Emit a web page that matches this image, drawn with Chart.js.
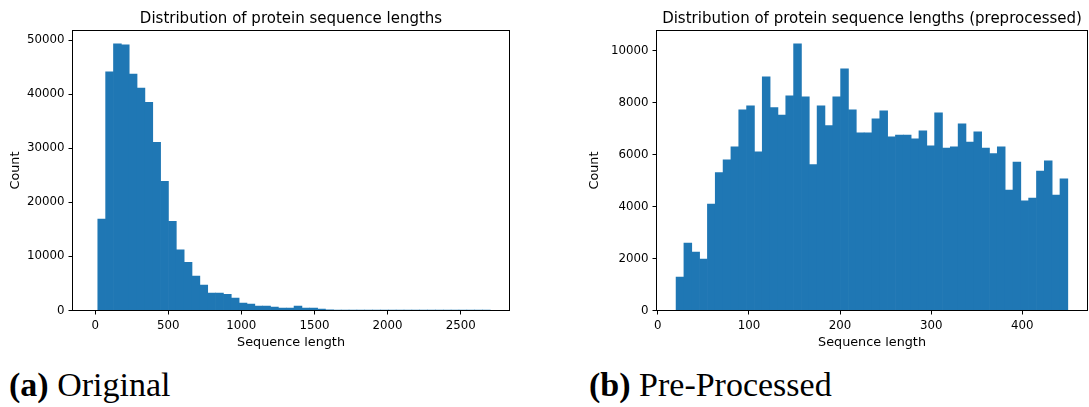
<!DOCTYPE html>
<html>
<head>
<meta charset="utf-8">
<script src="https://cdn.jsdelivr.net/npm/chart.js@4.4.1/dist/chart.umd.min.js"></script>
<style>
    body { margin: 0; background: #fff; width: 1089px; height: 407px; position: relative; overflow: hidden; }
    canvas { position: absolute; top: 0; }
    .caption { position: absolute; top: 366px; font-family: "Liberation Serif", serif; font-size: 34px; color: #000; white-space: nowrap; }
</style>
</head>
<body>
<canvas id="originalChart" width="545" height="355" style="left:0"></canvas>
<canvas id="preprocessedChart" width="544" height="355" style="left:545px"></canvas>
<div class="caption" style="left:9px"><b>(a)</b> Original</div>
<div class="caption" style="left:589px"><b>(b)</b> Pre-Processed</div>

<script>
/* --- Données --- */

// (a) longueurs d'origine : 50 classes
const originalBinStart = 18;
const originalBinWidth = 53.7;
const originalCounts = [
    16900, 44100, 49300, 49100, 43700, 41100, 38500, 31100, 23900, 16500,
    11200, 8900, 6350, 4700, 3200, 3200, 3000, 2300, 1350, 1170,
    800, 800, 620, 430, 430, 800, 430, 430, 250, 110,
    70, 50, 40, 30, 25, 20, 15, 12, 10, 8,
    6, 5, 4, 4, 3, 2, 2, 1, 1, 1
];
const originalXTicks = [0, 500, 1000, 1500, 2000, 2500];
const originalYTicks = [0, 10000, 20000, 30000, 40000, 50000];

// (b) longueurs après prétraitement : 50 classes
const preBinStart = 20;
const preBinWidth = 8.6;
const preCounts = [
    1285, 2600, 2250, 1980, 4100, 5310, 5800, 6300, 7730, 7880,
    6110, 9000, 7820, 7530, 8270, 10270, 8230, 5620, 7880, 7120,
    8230, 9310, 7730, 6840, 6840, 7380, 7690, 6690, 6760, 6760,
    6610, 6920, 6340, 7610, 6260, 6300, 7190, 6490, 6880, 6260,
    6040, 6300, 4640, 5720, 4220, 4330, 5370, 5760, 4450, 5070
];
const preXTicks = [0, 100, 200, 300, 400];
const preYTicks = [0, 2000, 4000, 6000, 8000, 10000];

Chart.defaults.font.family = "'DejaVu Sans', sans-serif";
Chart.defaults.color = "#000";

// Cadre complet (4 côtés) + titre centré sur la zone du graphique
const framePlugin = {
    id: "frame",
    afterDatasetsDraw(chart, args, opts) {
        const { ctx, chartArea } = chart;
        ctx.save();
        ctx.strokeStyle = "#000";
        ctx.lineWidth = 1;
        ctx.strokeRect(chartArea.left, chartArea.top, chartArea.width, chartArea.height);

        ctx.font = "15px 'DejaVu Sans', sans-serif";
        ctx.fillStyle = "#000";
        ctx.textAlign = "center";
        ctx.textBaseline = "alphabetic";
        ctx.fillText(opts.title, (chartArea.left + chartArea.right) / 2, 22.5);
        ctx.restore();
    }
};

function buildHistogram(canvasId, cfg) {
    const ctx = document.getElementById(canvasId);
    if (!ctx || typeof Chart === "undefined") return null;

    // centre de chaque classe
    const points = cfg.counts.map((c, i) => ({
        x: cfg.binStart + (i + 0.5) * cfg.binWidth,
        y: c
    }));

    return new Chart(ctx, {
        type: "bar",
        data: {
            datasets: [{
                data: points,
                backgroundColor: "#1f77b4",
                borderWidth: 0,
                barPercentage: 1,
                categoryPercentage: 1
            }]
        },
        plugins: [framePlugin],
        options: {
            responsive: false,
            animation: false,
            layout: { padding: { left: cfg.padLeft, right: cfg.padRight, top: 30.5, bottom: 0 } },
            plugins: {
                legend: { display: false },
                tooltip: { enabled: false },
                frame: { title: cfg.title }
            },
            scales: {
                x: {
                    type: "linear",
                    min: cfg.xMin,
                    max: cfg.xMax,
                    offset: false,
                    grid: { display: true, drawOnChartArea: false, drawTicks: true, tickLength: 4, color: "#000", offset: false },
                    border: { display: false },
                    ticks: { font: { size: 11.8 }, padding: 4, maxRotation: 0, autoSkip: false, callback: v => String(v) },
                    title: { display: true, text: "Sequence length", font: { size: 12.8 }, padding: { top: 0, bottom: 5 } },
                    afterBuildTicks: scale => { scale.ticks = cfg.xTicks.map(v => ({ value: v })); },
                    afterFit: scale => { scale.height = 44.5; }
                },
                y: {
                    min: 0,
                    max: cfg.yMax,
                    grid: { display: true, drawOnChartArea: false, drawTicks: true, tickLength: 4, color: "#000" },
                    border: { display: false },
                    ticks: { font: { size: 11.8 }, padding: 4, autoSkip: false, callback: v => String(v) },
                    title: { display: true, text: "Count", font: { size: 12.8 }, padding: { top: cfg.yTitlePad, bottom: 0 } },
                    afterBuildTicks: scale => { scale.ticks = cfg.yTicks.map(v => ({ value: v })); },
                    afterFit: scale => { scale.width = cfg.yAxisWidth; }
                }
            }
        }
    });
}

buildHistogram("originalChart", {
    title: "Distribution of protein sequence lengths",
    counts: originalCounts,
    binStart: originalBinStart,
    binWidth: originalBinWidth,
    xTicks: originalXTicks,
    yTicks: originalYTicks,
    xMin: -155,
    xMax: 2834,
    yMax: 51760,
    padLeft: 0,
    padRight: 35.5,
    yAxisWidth: 72.5,
    yTitlePad: 8
});

buildHistogram("preprocessedChart", {
    title: "Distribution of protein sequence lengths (preprocessed)",
    counts: preCounts,
    binStart: preBinStart,
    binWidth: preBinWidth,
    xTicks: preXTicks,
    yTicks: preYTicks,
    xMin: -1.5,
    xMax: 471.6,
    yMax: 10784,
    padLeft: 40,
    padRight: 1.5,
    yAxisWidth: 71.5,
    yTitlePad: 2
});
</script>
</body>
</html>
